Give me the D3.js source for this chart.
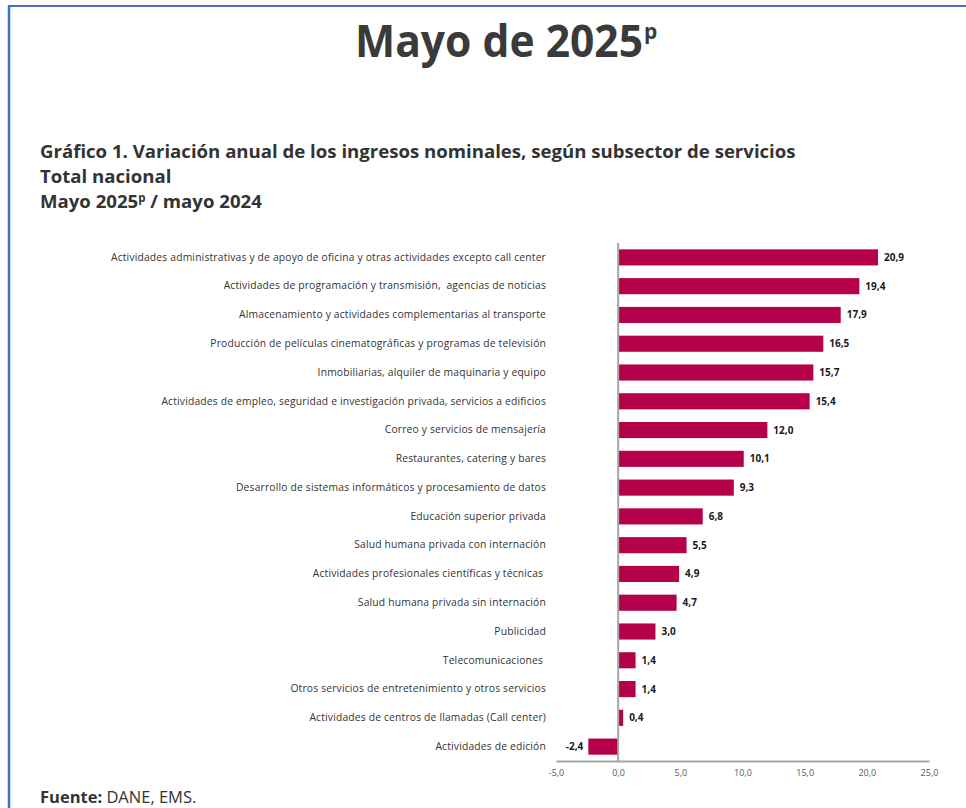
<!DOCTYPE html>
<html>
<head>
<meta charset="utf-8">
<script src="https://cdn.jsdelivr.net/npm/d3@7/dist/d3.min.js"></script>
<style>
  html, body { margin: 0; padding: 0; background: #fff; }
  svg { display: block; }
</style>
</head>
<body>
<svg id="chart" width="966" height="808"></svg>
<script>
const categories = [
  "Actividades administrativas y de apoyo de oficina y otras actividades excepto call center",
  "Actividades de programación y transmisión,  agencias de noticias",
  "Almacenamiento y actividades complementarias al transporte",
  "Producción de películas cinematográficas y programas de televisión",
  "Inmobiliarias, alquiler de maquinaria y equipo",
  "Actividades de empleo, seguridad e investigación privada, servicios a edificios",
  "Correo y servicios de mensajería",
  "Restaurantes, catering y bares",
  "Desarrollo de sistemas informáticos y procesamiento de datos",
  "Educación superior privada",
  "Salud humana privada con internación",
  "Actividades profesionales científicas y técnicas ",
  "Salud humana privada sin internación",
  "Publicidad",
  "Telecomunicaciones ",
  "Otros servicios de entretenimiento y otros servicios",
  "Actividades de centros de llamadas (Call center)",
  "Actividades de edición"
];
const values = [20.9, 19.4, 17.9, 16.5, 15.7, 15.4, 12.0, 10.1, 9.3, 6.8, 5.5, 4.9, 4.7, 3.0, 1.4, 1.4, 0.4, -2.4];
const tickValues = [-5, 0, 5, 10, 15, 20, 25];

const fmt = v => d3.format(".1f")(v).replace(".", ",").replace("\u2212", "-");

const svg = d3.select("#chart");

// page border (blue, top and left)
svg.append("line").attr("x1", 9).attr("x2", 966).attr("y1", 6).attr("y2", 6)
  .attr("stroke", "#4472C4").attr("stroke-width", 2);
svg.append("line").attr("x1", 9).attr("x2", 9).attr("y1", 5).attr("y2", 808)
  .attr("stroke", "#4472C4").attr("stroke-width", 2.5);

// main title
svg.append("text")
  .attr("x", 355).attr("y", 57)
  .attr("font-family", "'Open Sans', sans-serif")
  .attr("font-weight", 700).attr("font-size", 44)
  .attr("fill", "#3a3a3a")
  .attr("textLength", 288).attr("lengthAdjust", "spacingAndGlyphs")
  .text("Mayo de 2025");
svg.append("text")
  .attr("x", 644).attr("y", 39)
  .attr("font-family", "'Open Sans', sans-serif")
  .attr("font-weight", 700).attr("font-size", 21)
  .attr("fill", "#3a3a3a")
  .text("p");

// subtitle
const subLines = [
  ["Gráfico 1. Variación anual de los ingresos nominales, según subsector de servicios", null],
  ["Total nacional", null],
  ["Mayo 2025", "p", " / mayo 2024"]
];
const subY = [158, 183, 208];
subLines.forEach((ln, i) => {
  const t = svg.append("text")
    .attr("x", 40).attr("y", subY[i])
    .attr("font-family", "'Open Sans', sans-serif")
    .attr("font-weight", 700).attr("font-size", 18.6)
    .attr("fill", "#333");
  t.append("tspan").text(ln[0]);
  if (ln[1]) {
    t.append("tspan").text(ln[1]).attr("font-size", 11.5).attr("dy", -6);
    t.append("tspan").text(ln[2]).attr("dy", 6);
  }
});

// scales
const x = d3.scaleLinear().domain([-5, 25]).range([556, 929]);
const y = d3.scaleBand().domain(categories).range([243, 761]).paddingInner(0.44).paddingOuter(0.22);

// bars
svg.append("g").selectAll("rect").data(values).join("rect")
  .attr("x", d => x(Math.min(0, d)))
  .attr("width", d => Math.abs(x(d) - x(0)))
  .attr("y", (d, i) => y(categories[i]))
  .attr("height", y.bandwidth())
  .attr("fill", "#B5004A");

// zero line
svg.append("line")
  .attr("x1", x(0)).attr("x2", x(0))
  .attr("y1", 243).attr("y2", 761)
  .attr("stroke", "#a6a6a6").attr("stroke-width", 2);

// x axis
const xAxis = d3.axisBottom(x).tickValues(tickValues).tickSize(0).tickPadding(9).tickFormat(fmt);
const gx = svg.append("g").attr("transform", "translate(0,761)").call(xAxis);
gx.select(".domain").attr("stroke", "#a6a6a6").attr("stroke-width", 2);
gx.selectAll("text")
  .attr("font-family", "'Open Sans', sans-serif")
  .attr("font-size", 9).attr("fill", "#595959");

// category labels
const yAxis = d3.axisLeft(y).tickSize(0).tickPadding(0);
const gy = svg.append("g").attr("transform", "translate(546,0)").call(yAxis);
gy.select(".domain").remove();
gy.selectAll("text")
  .attr("font-family", "'Open Sans', sans-serif")
  .attr("font-size", 10.3).attr("letter-spacing", 0.18).attr("fill", "#333")
  .style("white-space", "pre");

// value labels
svg.append("g").selectAll("text").data(values).join("text")
  .attr("x", d => d >= 0 ? x(d) + 6 : x(d) - 5)
  .attr("y", (d, i) => y(categories[i]) + y.bandwidth() / 2)
  .attr("dy", "0.35em")
  .attr("text-anchor", d => d >= 0 ? "start" : "end")
  .attr("font-family", "'Open Sans', sans-serif")
  .attr("font-weight", 700).attr("font-size", 10)
  .attr("fill", "#1a1a1a")
  .text(d => fmt(d));

// footer
const f = svg.append("text").attr("x", 40).attr("y", 803)
  .attr("font-family", "'Open Sans', sans-serif").attr("font-size", 16.5).attr("fill", "#333");
f.append("tspan").text("Fuente:").attr("font-weight", 700);
f.append("tspan").text(" DANE, EMS.");
</script>
</body>
</html>
